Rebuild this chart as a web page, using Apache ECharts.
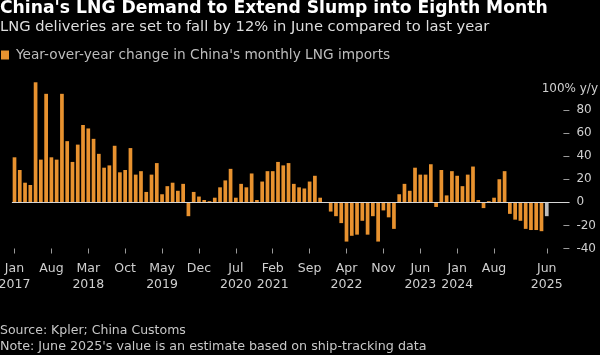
<!DOCTYPE html>
<html><head><meta charset="utf-8">
<script src="https://cdn.jsdelivr.net/npm/echarts@6/dist/echarts.min.js"></script>
<style>html,body{margin:0;padding:0;background:#000;}#c{width:600px;height:355px;}</style>
</head><body><div id="c"></div>
<script>
// Monthly y/y change (%), Jan 2017 .. Jun 2025
const values = [
  39, 28, 17, 15, 104, 37, 94, 39, 37, 94, 53, 35,      // 2017
  50, 67, 64, 55, 42, 30, 32, 49, 26, 28, 47, 24,       // 2018
  27, 9, 24, 34, 7, 14, 17, 10, 16, -12, 9, 5,          // 2019
  2, 1, 4, 13, 19, 29, 4, 16, 13, 25, 2, 18,            // 2020
  27, 27, 35, 32, 34, 16, 13, 12, 18, 23, 4, 0,         // 2021
  -8, -12, -18, -34, -29, -28, -16, -28, -12, -34, -7, -13, // 2022
  -23, 7, 16, 10, 30, 24, 24, 33, -4, 28, 6, 27,        // 2023
  23, 14, 24, 31, 2, -5, 1, 4, 20, 27, -10, -15,        // 2024
  -16, -23, -24, -24, -25, -12                          // 2025
];
const startYear = 2017;
const estimateIndex = 101;
const tickIndex = [0, 7, 14, 21, 28, 35, 42, 49, 56, 63, 70, 77, 84, 91, 101];
const tickLabels = ['Jan\n2017', 'Aug', 'Mar\n2018', 'Oct', 'May\n2019', 'Dec', 'Jul\n2020', 'Feb\n2021', 'Sep', 'Apr\n2022', 'Nov', 'Jun\n2023', 'Jan\n2024', 'Aug', 'Jun\n2025'];
const yTicks = [-40, -20, 0, 20, 40, 60, 80];
const seriesName = "Year-over-year change in China's monthly LNG imports";
const titleText = "China's LNG Demand to Extend Slump into Eighth Month";
const subtitleText = "LNG deliveries are set to fall by 12% in June compared to last year";
const sourceText = "Source: Kpler; China Customs";
const noteText = "Note: June 2025's value is an estimate based on ship-tracking data";
const unitLabel = "100% y/y";

const categories = values.map((_, i) =>
  (startYear + Math.floor(i / 12)) + '-' + String(i % 12 + 1).padStart(2, '0'));

const FONT = "'DejaVu Sans', 'Noto Sans', sans-serif";
const labelMap = {};
tickIndex.forEach((t, i) => { labelMap[t] = tickLabels[i]; });
const showTick = (i) => labelMap[i] !== undefined;

const gridLeft = 11.87;
const gridRight = 50.6;

const textGraphics = [
  {type: 'text', style: {text: unitLabel, x: 598, y: 89, align: 'right', verticalAlign: 'middle',
    fill: '#cfcfcf', font: '12px ' + FONT}},
  {type: 'text', style: {text: sourceText, x: 0, y: 331, verticalAlign: 'middle',
    fill: '#c8c8c8', font: '12.5px ' + FONT}},
  {type: 'text', style: {text: noteText, x: 0, y: 347, verticalAlign: 'middle',
    fill: '#c8c8c8', font: '12.7px ' + FONT}}
];

const chart = echarts.init(document.getElementById('c'), null, {renderer: 'canvas'});
chart.setOption({
  backgroundColor: '#000',
  animation: false,
  title: {
    text: titleText,
    subtext: subtitleText,
    left: 0, top: 0, padding: [0, 0, 0, 0], itemGap: 3,
    textStyle: {color: '#ffffff', fontFamily: FONT, fontWeight: 'bold', fontSize: 17.2},
    subtextStyle: {color: '#dedede', fontFamily: FONT, fontSize: 14.7}
  },
  legend: {
    left: 1, top: 48, padding: 0,
    icon: 'rect', itemWidth: 8, itemHeight: 9, itemGap: 10,
    textStyle: {color: '#bdbdbd', fontFamily: FONT, fontSize: 13.7, padding: [0, 0, 0, 2]},
    data: [seriesName]
  },
  grid: {left: gridLeft, right: gridRight, top: 86.9, bottom: 106.5,
    containLabel: false, outerBoundsMode: 'none'},
  xAxis: {
    type: 'category', data: categories, boundaryGap: true,
    axisLine: {show: false, onZero: false},
    splitLine: {show: false},
    axisTick: {show: true, alignWithLabel: true, interval: showTick, length: 5, lineStyle: {color: '#9a9a9a'}},
    axisLabel: {
      interval: showTick, color: '#cfcfcf', fontFamily: FONT, fontSize: 12.5,
      lineHeight: 16, margin: 12, hideOverlap: false,
      formatter: (v, i) => labelMap[i] || ''
    }
  },
  yAxis: {
    type: 'value', position: 'right', offset: 14, min: -40, max: 100,
    axisLine: {show: false, onZero: false},
    splitLine: {show: false},
    axisTick: {show: true, customValues: yTicks, length: 6, lineStyle: {color: '#9a9a9a'}},
    axisLabel: {customValues: yTicks, color: '#cfcfcf', fontFamily: FONT, fontSize: 12, margin: 13}
  },
  series: [{
    name: seriesName,
    type: 'bar',
    clip: false,
    barWidth: 3.7,
    itemStyle: {color: '#e8922f'},
    data: values.map((v, i) => i === estimateIndex
      ? {value: v, itemStyle: {color: '#bdbdbd'}}
      : v)
  }],
  graphic: textGraphics
});

// zero line: spans the plot and runs into the right-hand tick column
const y0 = Math.round(chart.convertToPixel({yAxisIndex: 0}, 0)) + 0.5;
const xStart = chart.convertToPixel({xAxisIndex: 0}, 0) - 2.6;
chart.setOption({
  graphic: textGraphics.concat([
    {type: 'line', z: 100, silent: true,
      shape: {x1: xStart, y1: y0, x2: 600 - gridRight + 20, y2: y0},
      style: {stroke: '#d6d6d6', lineWidth: 1}}
  ])
}, {replaceMerge: ['graphic']});
</script>
</body></html>
